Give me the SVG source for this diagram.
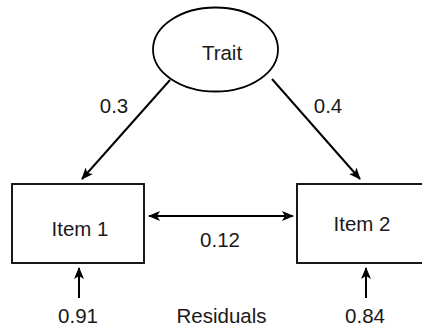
<svg xmlns="http://www.w3.org/2000/svg" width="422" height="328" viewBox="0 0 422 328">
  <style>
    .node { fill: #ffffff; stroke: #000000; stroke-width: 1.8; }
    .edge { fill: none; stroke: #000000; stroke-width: 2; }
    text { font-family: "Liberation Sans", Arial, sans-serif; font-size: 20.5px; fill: #1a1a1a; text-anchor: middle; }
  </style>
  <defs>
    <marker id="arrow" viewBox="0 0 12 10" refX="11" refY="5" markerWidth="12" markerHeight="10" markerUnits="userSpaceOnUse" orient="auto-start-reverse">
      <path d="M0,0 L12,5 L0,10 L3,5 z" fill="#000000"/>
    </marker>
  </defs>
  <rect width="422" height="328" fill="#ffffff"/>
  <g id="trait">
    <ellipse class="node" cx="215.5" cy="49.5" rx="62.5" ry="42"/>
    <text x="222" y="60">Trait</text>
  </g>
  <g id="item1">
    <rect class="node" x="12" y="184" width="132" height="79"/>
    <text x="80" y="236">Item 1</text>
  </g>
  <g id="item2">
    <rect class="node" x="297" y="184" width="130" height="79"/>
    <text x="362" y="231">Item 2</text>
  </g>
  <g id="connectors">
    <line class="edge" x1="170" y1="80" x2="82" y2="179" marker-end="url(#arrow)"/>
    <line class="edge" x1="272" y1="79" x2="360" y2="179" marker-end="url(#arrow)"/>
    <line class="edge" x1="149" y1="216" x2="293" y2="216" marker-start="url(#arrow)" marker-end="url(#arrow)"/>
    <line class="edge" x1="79" y1="298" x2="79" y2="268" marker-end="url(#arrow)"/>
    <line class="edge" x1="366" y1="298" x2="366" y2="268" marker-end="url(#arrow)"/>
  </g>
  <g id="labels">
    <text x="114" y="113">0.3</text>
    <text x="328" y="113">0.4</text>
    <text x="220" y="247">0.12</text>
    <text x="78" y="323">0.91</text>
    <text x="365" y="323">0.84</text>
    <text x="221.5" y="323">Residuals</text>
  </g>
</svg>
